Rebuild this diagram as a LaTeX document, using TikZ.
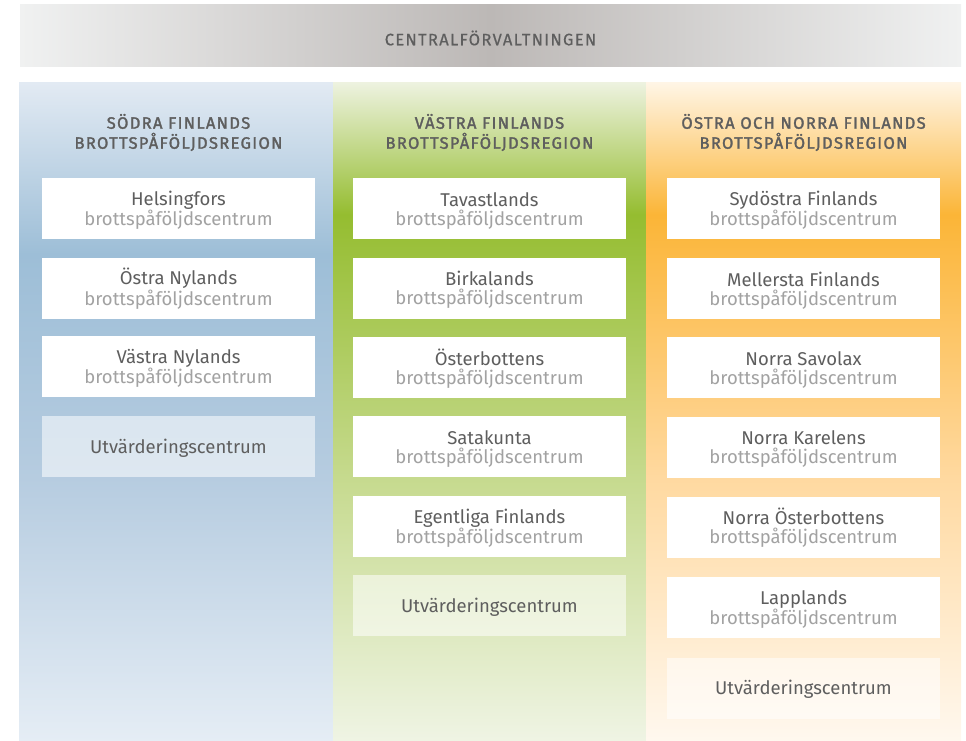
\documentclass[tikz,border=0pt]{standalone}
\usepackage{fontspec}
\setmainfont{Fira Sans}
\newfontfamily\capsfont{Fira Sans}[LetterSpace=8, FakeBold=1.8]
\newfontfamily\bandfont{Fira Sans}[LetterSpace=8, FakeBold=0.6]
\usepackage{tikz}

\definecolor{txtdark}{HTML}{5E5E5E}
\definecolor{txtlight}{HTML}{A2A2A2}
\definecolor{gedge}{HTML}{F0F1F1}
\definecolor{gmid}{HTML}{BCB8B6}
\definecolor{bluetop}{HTML}{E2EAF3}
\definecolor{bluemid}{HTML}{9DBED7}
\definecolor{bluelow}{HTML}{B6CCE0}
\definecolor{bluebot}{HTML}{E5EDF5}
\definecolor{greentop}{HTML}{EDF2DF}
\definecolor{greenmid}{HTML}{95BD30}
\definecolor{greenlow}{HTML}{C6DA8E}
\definecolor{greenbot}{HTML}{EFF4E4}
\definecolor{orangetop}{HTML}{FFF5E5}
\definecolor{orangemid}{HTML}{FBB537}
\definecolor{orangelow}{HTML}{FFD9A0}
\definecolor{orangebot}{HTML}{FFF8EF}

\pgfdeclarehorizontalshading{centralshade}{100bp}{color(0bp)=(gedge); color(25bp)=(gedge);
  color(50bp)=(gmid); color(75bp)=(gedge); color(100bp)=(gedge)}
\pgfdeclareverticalshading{blueshade}{100bp}{color(0bp)=(bluebot); color(25bp)=(bluebot);
  color(45bp)=(bluelow); color(62bp)=(bluemid); color(75bp)=(bluetop); color(100bp)=(bluetop)}
\pgfdeclareverticalshading{greenshade}{100bp}{color(0bp)=(greenbot); color(25bp)=(greenbot);
  color(45bp)=(greenlow); color(65bp)=(greenmid); color(75bp)=(greentop); color(100bp)=(greentop)}
\pgfdeclareverticalshading{orangeshade}{100bp}{color(0bp)=(orangebot); color(25bp)=(orangebot);
  color(45bp)=(orangelow); color(65bp)=(orangemid); color(75bp)=(orangetop); color(100bp)=(orangetop)}

\tikzset{
  unit/.style={fill=white, minimum width=273pt, minimum height=61pt, inner sep=0pt,
    align=center, font=\fontsize{18.5}{19}\selectfont, text=txtdark},
  evalunit/.style={unit, fill opacity=0.55, text opacity=1},
  heading/.style={align=center, font=\capsfont\fontsize{16.5}{20}\selectfont, text=txtdark}
}
\newcommand{\centre}[1]{\rule{0pt}{18pt}#1\\\textcolor{txtlight}{brottspåföljdscentrum}}
\newcommand{\evaltext}{\rule{0pt}{17.5pt}Utvärderingscentrum}

\begin{document}
\begin{tikzpicture}[x=1pt, y=-1pt]
\useasboundingbox (0,0) rectangle (966,741);
% central administration band
\shade[shading=centralshade] (20,5) rectangle (961,67);
\node[font=\bandfont\fontsize{16.5}{18}\selectfont, text=txtdark] (central) at (490.5,38) {CENTRALFÖRVALTNINGEN};
% regions
\shade[shading=blueshade] (19,83) rectangle (333,741);
\shade[shading=greenshade] (333,83) rectangle (646,741);
\shade[shading=orangeshade] (646,83) rectangle (961,741);
\node[heading] (r1) at (178.5,132.5) {SÖDRA FINLANDS\\BROTTSPÅFÖLJDSREGION};
\node[heading] (r2) at (489.5,132.5) {VÄSTRA FINLANDS\\BROTTSPÅFÖLJDSREGION};
\node[heading] (r3) at (803.5,132.5) {ÖSTRA OCH NORRA FINLANDS\\BROTTSPÅFÖLJDSREGION};
% southern Finland
\draw (178.5,208.5) node[unit] (s1) {\centre{Helsingfors}}
    (178.5,288) node[unit] (s2) {\centre{Östra Nylands}}
    (178.5,366.5) node[unit] (s3) {\centre{Västra Nylands}}
    (178.5,446.5) node[evalunit] (s4) {\evaltext};
% western Finland
\draw (489.5,208.5) node[unit] (w1) {\centre{Tavastlands}}
    (489.5,288) node[unit] (w2) {\centre{Birkalands}}
    (489.5,367.5) node[unit] (w3) {\centre{Österbottens}}
    (489.5,446.5) node[unit] (w4) {\centre{Satakunta}}
    (489.5,526.5) node[unit] (w5) {\centre{Egentliga Finlands}}
    (489.5,605.5) node[evalunit] (w6) {\evaltext};
% eastern and northern Finland
\draw (803.5,208.5) node[unit] (e1) {\centre{Sydöstra Finlands}}
    (803.5,288.5) node[unit] (e2) {\centre{Mellersta Finlands}}
    (803.5,367.5) node[unit] (e3) {\centre{Norra Savolax}}
    (803.5,447) node[unit] (e4) {\centre{Norra Karelens}}
    (803.5,527) node[unit] (e5) {\centre{Norra Österbottens}}
    (803.5,607.5) node[unit] (e6) {\centre{Lapplands}}
    (803.5,688) node[evalunit] (e7) {\evaltext};
\end{tikzpicture}
\end{document}
